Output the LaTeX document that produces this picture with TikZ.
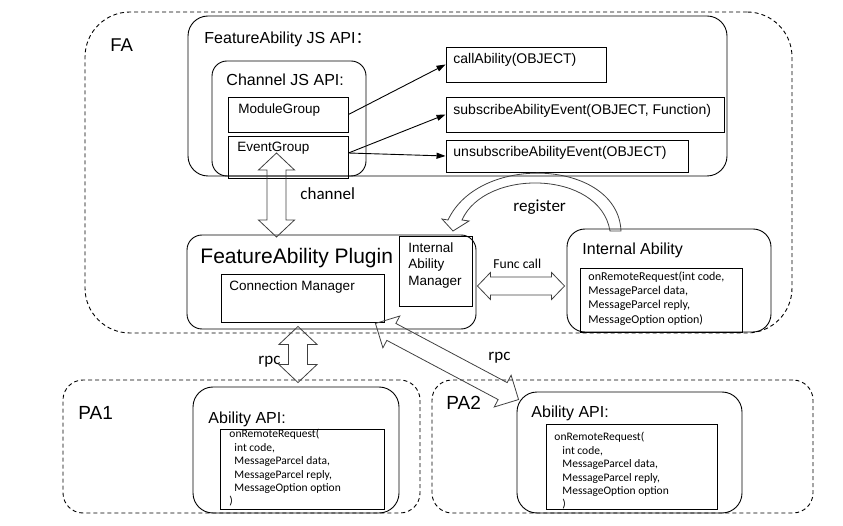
\documentclass[tikz,border=0pt]{standalone}
\usepackage{fontspec}
\setmainfont{Liberation Sans}
\newfontfamily\calibri{Carlito}
\newfontfamily\cjkfont{Noto Sans CJK SC}
\usetikzlibrary{arrows.meta,calc,fit}

\newcommand{\fsz}[1]{\fontsize{#1}{#1}\selectfont}
% hollow double arrow: from, to, shaft half width, head half width, head length
\newcommand{\hollowarrow}[5]{%
  \path let \p1=(#1),\p2=(#2) in \pgfextra{%
    \pgfmathsetmacro\arrang{atan2(\y2-\y1,\x2-\x1)}\global\let\arrang\arrang
    \pgfmathsetmacro\arrlen{veclen(\x2-\x1,\y2-\y1)/1}\global\let\arrlen\arrlen};
  \begin{scope}[shift={(#1)},rotate=\arrang]
    \draw[pipeline] (0,0) -- (#5,#4) -- (#5,#3) -- (\arrlen-#5,#3) -- (\arrlen-#5,#4)
      -- (\arrlen,0) -- (\arrlen-#5,-#4) -- (\arrlen-#5,-#3) -- (#5,-#3) -- (#5,-#4) -- cycle;
  \end{scope}}

\begin{document}
\begin{tikzpicture}[x=1pt,y=-1pt,line width=0.9pt,
  group/.style={draw,dash pattern=on 4pt off 3pt,inner sep=0pt},
  panel/.style={draw,rounded corners=18pt,inner sep=0pt},
  box/.style={draw,inner sep=0pt},
  txt/.style={inner sep=0pt,anchor=base west},
  code/.style={inner sep=0pt,anchor=north west,align=left,font=\calibri\fontsize{11.5}{13.4}\selectfont},
  pipeline/.style={draw=black!75,line width=0.8pt},
  call/.style={-{Triangle[length=9pt,width=6pt]}}]
\useasboundingbox (0,0) rectangle (843,526);

% FA side
\node[group,rounded corners=45pt,fit={(85,12)(792,333)}] (fa) {};
\node[txt,font=\fsz{18.5}] at (110,52) {FA};

\node[panel,rounded corners=20pt,fit={(188,16)(727,176)}] (jsapi) {};
\node[txt,font=\fsz{16}] at (204,44) {FeatureAbility JS API{\cjkfont ：}};
\node[panel,rounded corners=15pt,fit={(212,61)(366,176)}] (chapi) {};
\node[txt,font=\fsz{16}] at (226,86) {Channel JS API:};
\node[box,fit={(228,97)(348,132)}] (modgrp) {};
\node[txt,font=\fsz{13.5}] at (238,114) {ModuleGroup};
\node[box,fit={(228,136)(348,178)}] (evtgrp) {};
\node[txt,font=\fsz{13.5}] at (237,152) {EventGroup};

\node[box,fit={(446,47)(606,82)}] (call) {};
\node[txt,font=\fsz{14}] at (453,64) {callAbility(OBJECT)};
\node[box,fit={(446,97)(724,132)}] (sub) {};
\node[txt,font=\fsz{14}] at (453,115) {subscribeAbilityEvent(OBJECT, Function)};
\node[box,fit={(446,140)(688,172)}] (unsub) {};
\node[txt,font=\fsz{14}] at (453,157) {unsubscribeAbilityEvent(OBJECT)};

\draw[call] (modgrp.east) -- (call.west);
\draw[call] ($(evtgrp.east)+(0,-4)$) -- (sub.west);
\draw[call] ($(evtgrp.east)+(0,-4)$) -- (unsub.west);

\node[panel,rounded corners=15pt,fit={(187,235)(476,329)}] (plugin) {};
\node[txt,font=\fsz{21}] at (200,264) {FeatureAbility Plugin};
\node[box,fit={(221,274)(384,322)}] (connmgr) {};
\node[txt,font=\fsz{13.5}] at (229,291) {Connection Manager};
\node[box,fit={(399,236)(472,306)}] (iamgr) {};
\node[inner sep=0pt,anchor=north west,align=left,font=\fontsize{13.5}{16.5}\selectfont] at (408,242) {Internal\\Ability\\Manager};

\node[panel,rounded corners=18pt,fit={(567,229)(771,332)}] (intab) {};
\node[txt,font=\fsz{16}] at (582,255) {Internal Ability};
\node[box,fit={(580,268)(742,332)}] (orrbox) {};
\node[code,font=\calibri\fontsize{12}{14.3}\selectfont] at (588,271) {onRemoteRequest(int code,\\MessageParcel data,\\MessageParcel reply,\\MessageOption option)};

% channel / func call / register
\coordinate (chA) at (276.5,153);
\coordinate (chB) at (276.5,237);
\hollowarrow{chA}{chB}{9.5}{18}{17}
\node[txt,font=\calibri\fsz{17}] at (300,200) {channel};
\coordinate (fcA) at ($(plugin.east)+(1,4)$);
\coordinate (fcB) at ($(intab.west)+(-2,5.5)$);
\hollowarrow{fcA}{fcB}{9}{13.5}{13}
\node[txt,font=\calibri\fsz{13.6}] at (493,269) {Func call};
\draw[pipeline] (448,220) -- (442,219) -- (453,231) -- (469,221) -- (462,220)
  .. controls (485,168) and (600,170) .. (610,231) -- (621,231)
  .. controls (618,160) and (480,152) .. (448,220) -- cycle;
\node[txt,font=\calibri\fsz{17}] at (513,212) {register};

% PA side
\node[group,rounded corners=20pt,fit={(63,380)(420,513)}] (pa1) {};
\node[txt,font=\fsz{19}] at (78,419) {PA1};
\node[panel,rounded corners=20pt,fit={(193,387)(399,513)}] (api1) {};
\node[txt,font=\fsz{16}] at (208,423) {Ability API:};
\node[box,fit={(220,429)(384,509)}] (req1) {};
\node[code] at (229,429) {onRemoteRequest(\\\hspace*{5pt}int code,\\\hspace*{5pt}MessageParcel data,\\\hspace*{5pt}MessageParcel reply,\\\hspace*{5pt}MessageOption option\\)};

\node[group,rounded corners=20pt,fit={(432,380)(813,513)}] (pa2) {};
\node[txt,font=\fsz{19}] at (446,409) {PA2};
\node[panel,rounded corners=20pt,fit={(517,392)(742,513)}] (api2) {};
\node[txt,font=\fsz{16}] at (531,417) {Ability API:};
\node[box,fit={(546,424)(717,509)}] (req2) {};
\node[code] at (554,432) {onRemoteRequest(\\\hspace*{8pt}int code,\\\hspace*{8pt}MessageParcel data,\\\hspace*{8pt}MessageParcel reply,\\\hspace*{8pt}MessageOption option\\\hspace*{8pt})};

% rpc links
\coordinate (rpcA) at ($(connmgr.south)+(-4.5,4)$);
\coordinate (rpcB) at ($(api1.north)+(2,-4)$);
\hollowarrow{rpcA}{rpcB}{9.5}{19}{18}
\node[txt,font=\calibri\fsz{17}] at (258,364) {rpc};
\coordinate (rpcC) at ($(connmgr.south east)+(-9,1)$);
\coordinate (rpcD) at ($(api2.north west)+(2,8)$);
\hollowarrow{rpcC}{rpcD}{9.6}{18}{18}
\node[txt,font=\calibri\fsz{17}] at (488,360) {rpc};
\end{tikzpicture}
\end{document}
